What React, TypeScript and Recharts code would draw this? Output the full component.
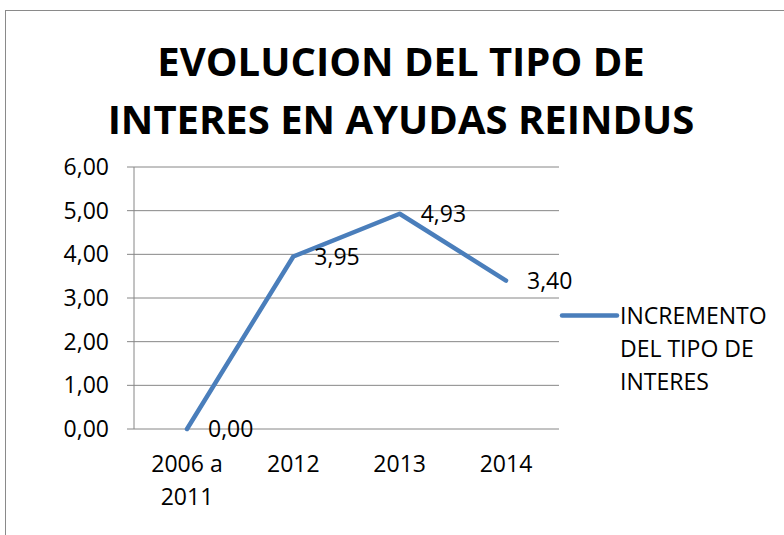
import React from 'react';
import { LineChart, Line, XAxis, YAxis, CartesianGrid, LabelList, Legend } from 'recharts';

const categories = ['2006 a\n2011', '2012', '2013', '2014'];
const values = [0, 3.95, 4.93, 3.4];
const yTicks = [0, 1, 2, 3, 4, 5, 6];
const edgeTicks = [0, 1, 2, 3, 4];
const seriesName = 'INCREMENTO DEL TIPO DE INTERES';
const titleLines = ['EVOLUCION DEL TIPO DE', 'INTERES EN AYUDAS REINDUS'];

const data = categories.map((c, i) => ({ cat: c, value: values[i] }));

const FONT = '"Open Sans", sans-serif';
const LINE_COLOR = '#4A7EBB';
const GRID_COLOR = '#868686';

const fmt = (v: any) => Number(v).toFixed(2).replace('.', ',');

const CatTick = (props: any) => {
  const { x, y, payload } = props;
  const lines = String(payload.value).split('\n');
  return (
    <text x={x} y={y} textAnchor="middle" fontFamily={FONT} fontSize={23} fill="#000">
      {lines.map((l, i) => (
        <tspan key={i} x={x} y={y + 43 + i * 32.5}>
          {l}
        </tspan>
      ))}
    </text>
  );
};

const LegendContent = (props: any) => {
  const item = props.payload && props.payload[0];
  if (!item) return null;
  return (
    <div style={{ display: 'flex', alignItems: 'flex-start', fontFamily: FONT, fontSize: 23, lineHeight: '33px' }}>
      <svg width={61} height={33} style={{ flex: 'none' }}>
        <line x1={3} x2={58} y1={16.5} y2={16.5} stroke={item.color} strokeWidth={4.5} strokeLinecap="round" />
      </svg>
      <div style={{ width: 160, color: '#000' }}>{item.value}</div>
    </div>
  );
};

export default function App() {
  return (
    <div style={{ position: 'absolute', left: 0, top: 0, width: 784, height: 535, overflow: 'hidden', background: '#fff' }}>
      <div
        style={{
          position: 'absolute',
          left: 5,
          top: 10,
          width: 900,
          height: 700,
          borderLeft: '1.5px solid #8a8a8a',
          borderTop: '1.5px solid #8a8a8a',
          boxSizing: 'border-box',
        }}
      />
      <svg width={784} height={170} style={{ position: 'absolute', left: 0, top: 0, pointerEvents: 'none' }}>
        {titleLines.map((t, i) => (
          <text key={i} x={401} y={76 + i * 58} textAnchor="middle" fontFamily={FONT} fontWeight={700} fontSize={40} fill="#000">
            {t}
          </text>
        ))}
      </svg>
      <div style={{ position: 'absolute', left: 0, top: 0 }}>
        <LineChart width={784} height={535} data={data} margin={{ top: 167, right: 225, bottom: 0, left: 0 }} style={{ fontFamily: FONT }}>
          <CartesianGrid vertical={false} stroke={GRID_COLOR} strokeWidth={1} />
          <XAxis
            xAxisId="edges"
            type="number"
            domain={[0, 4]}
            ticks={edgeTicks}
            tick={false}
            height={0}
            tickSize={8}
            stroke={GRID_COLOR}
            axisLine={{ stroke: GRID_COLOR }}
            tickLine={{ stroke: GRID_COLOR }}
            allowDataOverflow
          />
          <XAxis
            xAxisId="cat"
            dataKey="cat"
            type="category"
            padding={{ left: 53, right: 53 }}
            height={106}
            axisLine={false}
            tickLine={false}
            tickSize={0}
            tickMargin={0}
            tick={<CatTick />}
            interval={0}
          />
          <YAxis
            domain={[0, 6]}
            ticks={yTicks}
            width={134}
            tickSize={7}
            tickMargin={18}
            tickFormatter={fmt}
            axisLine={{ stroke: GRID_COLOR }}
            tickLine={{ stroke: GRID_COLOR }}
            tick={{ fontSize: 23, fill: '#000', fontFamily: FONT }}
            interval={0}
          />
          <Legend
            layout="vertical"
            align="center"
            verticalAlign="middle"
            wrapperStyle={{ left: 559, top: 298.5, width: 225 }}
            content={<LegendContent />}
          />
          <Line
            xAxisId="cat"
            type="linear"
            dataKey="value"
            name={seriesName}
            stroke={LINE_COLOR}
            strokeWidth={4.5}
            strokeLinecap="round"
            strokeLinejoin="round"
            dot={false}
            activeDot={false}
            isAnimationActive={false}
          >
            <LabelList dataKey="value" position="right" offset={21} formatter={fmt} fontSize={23} fill="#000" fontFamily={FONT} />
          </Line>
        </LineChart>
      </div>
    </div>
  );
}
